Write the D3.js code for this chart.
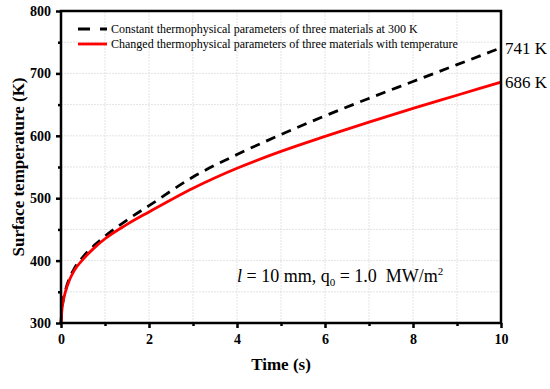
<!DOCTYPE html>
<html>
<head>
<meta charset="utf-8">
<script src="https://cdn.jsdelivr.net/npm/d3@7"></script>
<style>
  body { margin: 0; background: #fff; }
  svg { display: block; }
</style>
</head>
<body>
<script>
// time points (s)
var times = [0, 0.02, 0.05, 0.1, 0.2, 0.3, 0.5, 0.75, 1, 1.5, 2, 3, 4, 5, 6, 7, 8, 9, 10];
// constant thermophysical parameters at 300 K
var constTemp = [300, 321, 337, 352, 373, 387, 406, 424, 439, 465, 488, 534, 570, 602, 632, 660, 687, 714, 741];
// changed thermophysical parameters with temperature
var changedTemp = [300, 320, 335, 350, 370, 384, 402, 420, 435, 458, 478, 516, 548, 575, 599, 622, 644, 665, 686];

var xTicks = [0, 2, 4, 6, 8, 10];
var yTicks = [300, 400, 500, 600, 700, 800];
var legendLabels = ['Constant thermophysical parameters of three materials at 300 K',
                    'Changed thermophysical parameters of three materials with temperature'];
var endLabels = ['741 K', '686 K'];

var width = 550, height = 389;
var margin = {left: 61, right: 49, top: 11, bottom: 66};
var font = '"Liberation Serif","Times New Roman",serif';

var svg = d3.select('body').append('svg').attr('width', width).attr('height', height);

var x = d3.scaleLinear().domain([0, 10]).range([margin.left, width - margin.right]);
var y = d3.scaleLinear().domain([300, 800]).range([height - margin.bottom, margin.top]);

// grid lines every 1 s and every 50 K
var grid = svg.append('g');
grid.selectAll('.gx').data(d3.range(1, 10)).enter().append('line')
    .attr('x1', function (d) { return x(d); }).attr('x2', function (d) { return x(d); })
    .attr('y1', y(300)).attr('y2', y(800))
    .attr('stroke', '#dcdcdc').attr('stroke-width', 0.8).attr('stroke-dasharray', '2,1');
grid.selectAll('.gy').data(d3.range(350, 800, 50)).enter().append('line')
    .attr('x1', x(0)).attr('x2', x(10))
    .attr('y1', function (d) { return y(d); }).attr('y2', function (d) { return y(d); })
    .attr('stroke', '#dcdcdc').attr('stroke-width', 0.8).attr('stroke-dasharray', '2,1');

// curves
var line = d3.line()
    .x(function (d) { return x(d[0]); })
    .y(function (d) { return y(d[1]); })
    .curve(d3.curveMonotoneX);

svg.append('path')
    .datum(times.map(function (t, i) { return [t, constTemp[i]]; }))
    .attr('d', line).attr('fill', 'none')
    .attr('stroke', '#000').attr('stroke-width', 2.8).attr('stroke-dasharray', '10,7');

svg.append('path')
    .datum(times.map(function (t, i) { return [t, changedTemp[i]]; }))
    .attr('d', line).attr('fill', 'none')
    .attr('stroke', '#ff0000').attr('stroke-width', 2.8);

// axes
var xAxis = svg.append('g').attr('transform', 'translate(0,' + y(300) + ')')
    .call(d3.axisBottom(x).tickValues(xTicks).tickSize(5).tickPadding(6).tickFormat(d3.format('d')));
var xMinor = svg.append('g').attr('transform', 'translate(0,' + y(300) + ')')
    .call(d3.axisBottom(x).tickValues([1, 3, 5, 7, 9]).tickSize(3).tickFormat(''));
var yAxis = svg.append('g').attr('transform', 'translate(' + x(0) + ',0)')
    .call(d3.axisLeft(y).tickValues(yTicks).tickSize(5).tickPadding(5).tickFormat(d3.format('d')));
var yMinor = svg.append('g').attr('transform', 'translate(' + x(0) + ',0)')
    .call(d3.axisLeft(y).tickValues([350, 450, 550, 650, 750]).tickSize(3).tickFormat(''));

[xAxis, xMinor, yAxis, yMinor].forEach(function (a) {
    a.select('.domain').remove();
    a.selectAll('line').attr('stroke', '#000').attr('stroke-width', 2.5);
    a.selectAll('text').attr('font-family', font).attr('font-weight', 'bold')
        .attr('font-size', 14).attr('fill', '#000');
});

// frame
svg.append('rect')
    .attr('x', x(0)).attr('y', y(800))
    .attr('width', x(10) - x(0)).attr('height', y(300) - y(800))
    .attr('fill', 'none').attr('stroke', '#000').attr('stroke-width', 2.5);

// axis titles
svg.append('text')
    .attr('x', (x(0) + x(10)) / 2).attr('y', 370)
    .attr('text-anchor', 'middle')
    .attr('font-family', font).attr('font-weight', 'bold').attr('font-size', 17)
    .text('Time (s)');

svg.append('text')
    .attr('transform', 'translate(24,' + (y(300) + y(800)) / 2 + ') rotate(-90)')
    .attr('text-anchor', 'middle')
    .attr('font-family', font).attr('font-weight', 'bold').attr('font-size', 17)
    .text('Surface temperature (K)');

// legend
var legend = svg.append('g');
legend.append('line').attr('x1', 78).attr('x2', 107).attr('y1', 29).attr('y2', 29)
    .attr('stroke', '#000').attr('stroke-width', 2.8).attr('stroke-dasharray', '12,10');
legend.append('line').attr('x1', 78).attr('x2', 107).attr('y1', 44).attr('y2', 44)
    .attr('stroke', '#ff0000').attr('stroke-width', 2.8);
legend.selectAll('text').data(legendLabels).enter().append('text')
    .attr('x', 111).attr('y', function (d, i) { return 33 + i * 15; })
    .attr('font-family', font).attr('font-size', 12)
    .text(function (d) { return d; });

// end value labels
svg.selectAll('.endlabel').data(endLabels).enter().append('text')
    .attr('x', x(10) + 4)
    .attr('y', function (d, i) { return y(i === 0 ? constTemp[constTemp.length - 1] : changedTemp[changedTemp.length - 1]) + 6; })
    .attr('font-family', font).attr('font-size', 17)
    .text(function (d) { return d; });

// condition annotation
var note = svg.append('text')
    .attr('x', 237).attr('y', 282)
    .attr('font-family', font).attr('font-size', 18);
note.append('tspan').attr('font-style', 'italic').text('l');
note.append('tspan').text(' = 10 mm, q');
note.append('tspan').attr('font-size', 11).attr('dy', 4).text('0');
note.append('tspan').attr('dy', -4).text(' = 1.0 \u00a0MW/m');
note.append('tspan').attr('font-size', 11).attr('dy', -7).text('2');
</script>
</body>
</html>
